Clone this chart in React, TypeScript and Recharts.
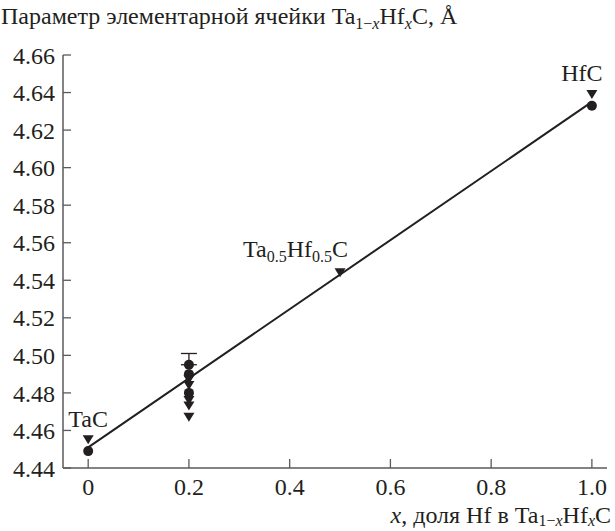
import React from "react"
import { ErrorBar, Scatter, ScatterChart, XAxis, YAxis } from "recharts"

const xTicks = [0, 0.2, 0.4, 0.6, 0.8, 1.0]
const yTicks = [4.44, 4.46, 4.48, 4.5, 4.52, 4.54, 4.56, 4.58, 4.6, 4.62, 4.64, 4.66]

// measured lattice parameter, circles
const circles = [
  { x: 0, y: 4.449 },
  { x: 0.2, y: 4.495 },
  { x: 0.2, y: 4.49 },
  { x: 0.2, y: 4.48 },
  { x: 1, y: 4.633 },
]

// calculated values, down triangles
const triangles = [
  { x: 0, y: 4.455 },
  { x: 0.2, y: 4.487 },
  { x: 0.2, y: 4.484 },
  { x: 0.2, y: 4.476 },
  { x: 0.2, y: 4.473 },
  { x: 0.2, y: 4.467 },
  { x: 0.5, y: 4.544 },
  { x: 1, y: 4.639 },
]

const errorPoints = [{ x: 0.2, y: 4.495, err: [0, 0.006] }]

const fitLine = [
  { x: 0, y: 4.451 },
  { x: 1, y: 4.635 },
]

const labels = [
  { x: 0, y: 4.455, name: "TaC" },
  { x: 0.5, y: 4.544, name: "Ta0.5Hf0.5C" },
  { x: 1, y: 4.639, name: "HfC" },
]

const INK = "#231f20"
const AXIS = "#5a5a5c"
const FONT = "Liberation Serif, DejaVu Serif, serif"
const FS = 24
const SUB = 16
const txt = { fontFamily: FONT }

const Circle = (p: any) => <circle cx={p.cx} cy={p.cy} r={5} fill={INK} />

const Triangle = (p: any) => (
  <path d={`M${p.cx - 5.5},${p.cy - 4.5} L${p.cx + 5.5},${p.cy - 4.5} L${p.cx},${p.cy + 4.5} Z`} fill={INK} />
)

const Empty = () => <g />

const PointLabel = (p: any) => {
  const name = p.payload.name
  if (name === "Ta0.5Hf0.5C") {
    return (
      <text x={p.cx + 8} y={p.cy - 16} textAnchor="end" style={txt} fontSize={FS} fill={INK}>
        Ta<tspan fontSize={SUB} dy={5}>0.5</tspan>
        <tspan dy={-5}>Hf</tspan>
        <tspan fontSize={SUB} dy={5}>0.5</tspan>
        <tspan dy={-5}>C</tspan>
      </text>
    )
  }
  // HfC sits close to the right edge, so pull it in a little
  const shift = name === "HfC" ? -10 : 0
  return (
    <text x={p.cx + shift} y={p.cy - 13} textAnchor="middle" style={txt} fontSize={FS} fill={INK}>
      {name}
    </text>
  )
}

const YTick = (p: any) => {
  const { x, y, payload } = p
  return (
    <g>
      <line x1={x + 8} x2={x + 16} y1={y} y2={y} stroke={AXIS} strokeWidth={1.3} />
      <text x={x} y={y} dy="0.36em" textAnchor="end" style={txt} fontSize={FS} fill={INK}>
        {payload.value.toFixed(2)}
      </text>
    </g>
  )
}

const XTick = (p: any) => {
  const { x, y, payload } = p
  return (
    <g>
      <line x1={x} x2={x} y1={y - 8} y2={y - 17} stroke={AXIS} strokeWidth={1.3} />
      <text x={x} y={y + 19} textAnchor="middle" style={txt} fontSize={FS} fill={INK}>
        {payload.value === 0 ? "0" : payload.value.toFixed(1)}
      </text>
    </g>
  )
}

export default function App() {
  return (
    <div style={{ position: "absolute", left: 0, top: 0, width: 615, height: 531, background: "#fff", fontFamily: FONT }}>
      <ScatterChart width={615} height={531} margin={{ top: 55, right: 8, bottom: 33, left: 0 }}>
        <XAxis
          type="number"
          dataKey="x"
          domain={[-0.05, 1.03]}
          ticks={xTicks}
          tickSize={0}
          tickMargin={8}
          tick={<XTick />}
          height={30}
          axisLine={{ stroke: AXIS, strokeWidth: 1.5 }}
          allowDataOverflow
        />
        <YAxis
          type="number"
          dataKey="y"
          domain={[4.44, 4.66]}
          ticks={yTicks}
          tickSize={0}
          tickMargin={8}
          tick={<YTick />}
          width={63}
          axisLine={{ stroke: AXIS, strokeWidth: 1.5 }}
          allowDataOverflow
        />
        <Scatter data={fitLine} line={{ stroke: INK, strokeWidth: 2 }} shape={Empty} isAnimationActive={false} />
        <Scatter data={errorPoints} shape={Empty} isAnimationActive={false}>
          <ErrorBar dataKey="err" direction="y" width={8} stroke={INK} strokeWidth={1.3} isAnimationActive={false} />
        </Scatter>
        <Scatter data={circles} shape={Circle} isAnimationActive={false} />
        <Scatter data={triangles} shape={Triangle} isAnimationActive={false} />
        <Scatter data={labels} shape={PointLabel} isAnimationActive={false} />
      </ScatterChart>
      <svg width={615} height={531} style={{ position: "absolute", left: 0, top: 0, pointerEvents: "none" }}>
        <text x={1} y={24} style={txt} fontSize={FS} fill={INK}>
          Параметр элементарной ячейки Ta<tspan fontSize={SUB} dy={5}>1−</tspan>
          <tspan fontSize={SUB} fontStyle="italic">x</tspan>
          <tspan dy={-5}>Hf</tspan>
          <tspan fontSize={SUB} fontStyle="italic" dy={5}>x</tspan>
          <tspan dy={-5}>C, Å</tspan>
        </text>
        <text x={611} y={523} textAnchor="end" style={txt} fontSize={FS} fill={INK}>
          <tspan fontStyle="italic">x</tspan>, доля Hf в Ta<tspan fontSize={SUB} dy={3}>1−</tspan>
          <tspan fontSize={SUB} fontStyle="italic">x</tspan>
          <tspan dy={-3}>Hf</tspan>
          <tspan fontSize={SUB} fontStyle="italic" dy={3}>x</tspan>
          <tspan dy={-3}>C</tspan>
        </text>
      </svg>
    </div>
  )
}
